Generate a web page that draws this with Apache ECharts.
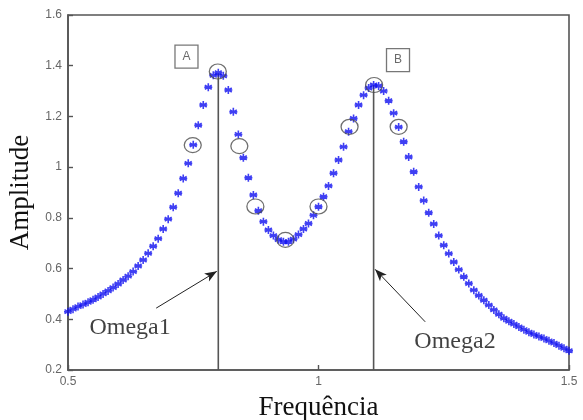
<!DOCTYPE html>
<html>
<head>
<meta charset="utf-8">
<script src="https://cdn.jsdelivr.net/npm/echarts@6/dist/echarts.min.js"></script>
<style>
  html, body { margin: 0; padding: 0; background: #fff; }
  #chart { width: 583px; height: 420px; }
</style>
</head>
<body>
<div id="chart"></div>
<script>
// Frequency response samples
const freq = [
  0.50, 0.51, 0.52, 0.53, 0.54, 0.55, 0.56, 0.57, 0.58, 0.59,
  0.60, 0.61, 0.62, 0.63, 0.64, 0.65, 0.66, 0.67, 0.68, 0.69,
  0.70, 0.71, 0.72, 0.73, 0.74, 0.75, 0.76, 0.77, 0.78, 0.79,
  0.80, 0.81, 0.82, 0.83, 0.84, 0.85, 0.86, 0.87, 0.88, 0.89,
  0.90, 0.91, 0.92, 0.93, 0.94, 0.95, 0.96, 0.97, 0.98, 0.99,
  1.00, 1.01, 1.02, 1.03, 1.04, 1.05, 1.06, 1.07, 1.08, 1.09,
  1.10, 1.11, 1.12, 1.13, 1.14, 1.15, 1.16, 1.17, 1.18, 1.19,
  1.20, 1.21, 1.22, 1.23, 1.24, 1.25, 1.26, 1.27, 1.28, 1.29,
  1.30, 1.31, 1.32, 1.33, 1.34, 1.35, 1.36, 1.37, 1.38, 1.39,
  1.40, 1.41, 1.42, 1.43, 1.44, 1.45, 1.46, 1.47, 1.48, 1.49, 1.50
];
const amplitude = [
  0.430, 0.440, 0.450, 0.458, 0.467, 0.477, 0.488, 0.500, 0.512, 0.525,
  0.539, 0.555, 0.570, 0.588, 0.610, 0.634, 0.660, 0.688, 0.718, 0.756,
  0.795, 0.842, 0.897, 0.955, 1.015, 1.088, 1.165, 1.245, 1.315, 1.362,
  1.372, 1.360, 1.304, 1.218, 1.129, 1.037, 0.958, 0.890, 0.828, 0.785,
  0.752, 0.730, 0.714, 0.706, 0.706, 0.716, 0.734, 0.756, 0.778, 0.810,
  0.844, 0.883, 0.926, 0.976, 1.028, 1.080, 1.140, 1.192, 1.245, 1.284,
  1.312, 1.324, 1.320, 1.300, 1.262, 1.213, 1.158, 1.100, 1.040, 0.982,
  0.922, 0.868, 0.820, 0.776, 0.730, 0.692, 0.659, 0.626, 0.596, 0.568,
  0.541, 0.515, 0.494, 0.475, 0.456, 0.437, 0.420, 0.404, 0.392, 0.381,
  0.370, 0.359, 0.349, 0.340, 0.332, 0.324, 0.315, 0.306, 0.296, 0.286, 0.276
];

// Points picked out with circles
const pickedFreq = [0.749, 0.799, 0.842, 0.874, 0.934, 1.000, 1.062, 1.111, 1.160];
const pickedAmp  = [1.087, 1.377, 1.083, 0.845, 0.713, 0.845, 1.159, 1.324, 1.159];

// Half-power reference lines
const omegaFreq = [0.80, 1.11];
const omegaTop  = [1.370, 1.324];
const omegaNames = ['Omega1', 'Omega2'];
// arrow tail / label anchor per omega
const arrowTailFreq = [0.676, 1.213];
const arrowTailAmp  = [0.444, 0.390];
const arrowTipFreq  = [0.797, 1.113];
const arrowTipAmp   = [0.589, 0.597];
const labelFreq = [0.624, 1.2725];
const labelAmp  = [0.366, 0.312];

// Peak tags
const tagNames = ['A', 'B'];
const tagFreq = [0.7365, 1.1587];
const tagAmp  = [1.436, 1.422];

const xTicks = [0.5, 1, 1.5];
const yTicks = [0.2, 0.4, 0.6, 0.8, 1, 1.2, 1.4, 1.6];

const serif = '"Liberation Serif", "DejaVu Serif", serif';
const sans = '"Liberation Sans", Arial, sans-serif';
const asterisk = 'path://M5,0L5,10M0.67,2.5L9.33,7.5M0.67,7.5L9.33,2.5M0,5L10,5';

const chart = echarts.init(document.getElementById('chart'), null, { renderer: 'canvas' });

const series = [];

series.push({
  type: 'scatter',
  data: freq.map((f, i) => [f, amplitude[i]]),
  symbol: asterisk,
  symbolSize: 8,
  itemStyle: { color: 'rgba(0,0,0,0)', borderColor: '#0f0ff0', borderWidth: 1.6 },
  z: 3
});

series.push({
  type: 'scatter',
  data: pickedFreq.map((f, i) => [f, pickedAmp[i]]),
  symbol: 'circle',
  symbolSize: [17, 15],
  itemStyle: { color: 'rgba(0,0,0,0)', borderColor: '#4a4a4a', borderWidth: 1.2 },
  z: 4
});

omegaFreq.forEach((f, i) => {
  series.push({
    type: 'line',
    data: [[f, 0.2], [f, omegaTop[i]]],
    symbol: 'none',
    lineStyle: { color: '#555', width: 1.6 },
    z: 2
  });
});

series.push({
  type: 'scatter',
  data: [],
  markLine: {
    silent: true,
    animation: false,
    lineStyle: { color: '#222', width: 1, type: 'solid' },
    symbolSize: [7, 12],
    label: { show: false },
    data: omegaFreq.map((f, i) => [
      { coord: [arrowTailFreq[i], arrowTailAmp[i]], symbol: 'none' },
      { coord: [arrowTipFreq[i], arrowTipAmp[i]], symbol: 'arrow' }
    ])
  }
});

series.push({
  type: 'scatter',
  data: labelFreq.map((f, i) => ({ value: [f, labelAmp[i]], name: omegaNames[i] })),
  symbolSize: 0,
  label: {
    show: true,
    position: 'inside',
    formatter: p => p.name,
    fontFamily: serif,
    fontSize: 24,
    color: '#111',
    textBorderWidth: 0
  },
  z: 5
});

series.push({
  type: 'scatter',
  data: tagFreq.map((f, i) => ({ value: [f, tagAmp[i]], name: tagNames[i] })),
  symbol: 'rect',
  symbolSize: 23,
  itemStyle: { color: '#fff', borderColor: '#555', borderWidth: 1.3 },
  label: {
    show: true,
    position: 'inside',
    formatter: p => p.name,
    fontFamily: sans,
    fontSize: 12,
    color: '#444',
    textBorderWidth: 0
  },
  z: 5
});

chart.setOption({
  animation: false,
  backgroundColor: '#fff',
  grid: {
    left: 68, right: 14, top: 15, bottom: 50,
    outerBoundsMode: 'none',
    containLabel: false,
    show: true, borderColor: '#555', borderWidth: 1.6, backgroundColor: 'rgba(0,0,0,0)'
  },
  xAxis: {
    type: 'value',
    min: 0.5, max: 1.5, interval: 0.5,
    name: 'Frequência',
    nameLocation: 'middle',
    nameGap: 24,
    nameTextStyle: { fontFamily: serif, fontSize: 27, color: '#111' },
    axisLine: { show: true, lineStyle: { color: '#555', width: 1.6 } },
    axisTick: { show: true, inside: true, length: 5, lineStyle: { color: '#555', width: 1.4 } },
    axisLabel: {
      color: '#666', fontFamily: sans, fontSize: 12, margin: 6,
      formatter: v => xTicks.includes(+v.toFixed(2)) ? String(+v.toFixed(2)) : ''
    },
    splitLine: { show: false }
  },
  yAxis: {
    type: 'value',
    min: 0.2, max: 1.6, interval: 0.2,
    name: 'Amplitude',
    nameLocation: 'middle',
    nameGap: 34,
    nameTextStyle: { fontFamily: serif, fontSize: 27, color: '#111' },
    axisLine: { show: true, lineStyle: { color: '#555', width: 1.6 } },
    axisTick: { show: true, inside: true, length: 5, lineStyle: { color: '#555', width: 1.4 } },
    axisLabel: {
      color: '#666', fontFamily: sans, fontSize: 12, margin: 6,
      formatter: v => {
        const r = +v.toFixed(2);
        return yTicks.includes(r) ? String(r) : '';
      }
    },
    splitLine: { show: false }
  },
  series: series
});
</script>
</body>
</html>
